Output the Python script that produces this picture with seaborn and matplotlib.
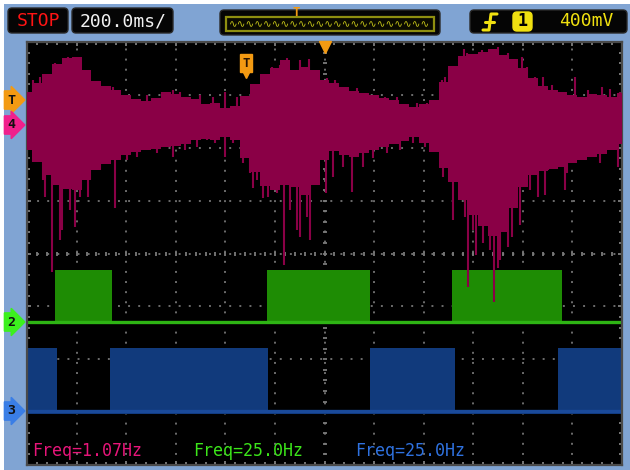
import numpy as np
import pandas as pd
import matplotlib
matplotlib.use("Agg")
import matplotlib.pyplot as plt
from matplotlib.patches import FancyBboxPatch, Rectangle
from matplotlib.lines import Line2D
from matplotlib.transforms import Affine2D
import seaborn as sns

# ---- time base and screen: 200 ms/div x 12 div, 8 vertical divisions ----
T_MIN, T_MAX = -1200, 1200
Y_MIN, Y_MAX = -4, 4

# ---- channel 4 (magenta): envelope sampled every 40 ms, in divisions ----
ch4_t = [-1200, -1160, -1120, -1080, -1040, -1000, -960, -920, -880, -840,
         -800, -760, -720, -680, -640, -600, -560, -520, -480, -440,
         -400, -360, -320, -280, -240, -200, -160, -120, -80, -40,
         0, 40, 80, 120, 160, 200, 240, 280, 320, 360,
         400, 440, 480, 520, 560, 600, 640, 680, 720, 760,
         800, 840, 880, 920, 960, 1000, 1040, 1080, 1120, 1160, 1200]
ch4_upper = [3.05, 3.22, 3.39, 3.58, 3.70, 3.72, 3.47, 3.26, 3.17, 3.09,
             3.00, 2.92, 2.88, 2.94, 3.05, 3.01, 2.96, 2.92, 2.83, 2.85,
             2.75, 2.79, 2.98, 3.20, 3.39, 3.51, 3.66, 3.47, 3.53, 3.47,
             3.28, 3.22, 3.15, 3.07, 3.03, 3.00, 2.94, 2.90, 2.83, 2.77,
             2.83, 2.90, 3.24, 3.54, 3.73, 3.77, 3.81, 3.87, 3.75, 3.68,
             3.51, 3.32, 3.17, 3.09, 3.05, 3.00, 2.96, 3.01, 3.00, 2.96, 3.03]
ch4_lower = [1.96, 1.73, 1.48, 1.29, 1.22, 1.20, 1.39, 1.58, 1.69, 1.77,
             1.86, 1.92, 1.96, 1.98, 2.01, 2.03, 2.07, 2.15, 2.16, 2.15,
             2.20, 2.15, 1.81, 1.54, 1.28, 1.20, 1.29, 1.26, 1.11, 1.29,
             1.77, 1.94, 1.86, 1.82, 1.90, 1.96, 2.01, 2.07, 2.13, 2.20,
             2.09, 1.92, 1.62, 1.35, 1.01, 0.73, 0.52, 0.33, 0.41, 0.86,
             1.26, 1.48, 1.56, 1.60, 1.64, 1.71, 1.77, 1.82, 1.88, 1.96, 2.07]
# glitches reaching below the envelope (time ms, lowest point div)
ch4_dip_t = [-1135, -1127, -1099, -1066, -1058, -1026, -1006, -986, -954, -946,
             -905, -877, -845, -796, -756, -675, -611, -562, -514, -474,
             -441, -401, -369, -329, -300, -288, -272, -248, -228, -192,
             -163, -139, -111, -99, -71, -58, -30, 6, 34, 75,
             111, 155, 196, 252, 304, 357, 405, 446, 478, 518,
             546, 567, 579, 599, 611, 639, 667, 683, 700, 708,
             740, 756, 788, 828, 861, 889, 901, 937, 970, 978,
             1018, 1058, 1111, 1151, 1183]
ch4_dip_v = [1.39, 1.07, -0.35, 0.26, 0.44, 0.82, 0.50, 1.07, 1.07, 1.39,
             1.58, 1.71, 0.86, 1.77, 1.82, 1.90, 1.82, 1.96, 2.01, 2.15,
             2.09, 1.82, 2.09, 1.71, 1.52, 1.24, 1.39, 1.05, 1.07, 1.14,
             -0.22, 0.82, 0.44, 0.31, 0.69, 0.26, 1.33, 1.14, 1.45, 1.64,
             1.16, 1.64, 1.81, 1.90, 1.96, 2.09, 2.01, 1.96, 1.45, 0.63,
             1.26, 0.69, -0.63, 0.44, -0.03, 0.20, 0.07, -0.92, -0.27, -0.12,
             0.12, 0.31, 0.54, 1.20, 1.07, 1.11, 1.58, 1.64, 1.20, 1.52,
             1.82, 1.90, 1.71, 1.96, 1.64]
# glitches reaching above the envelope (time ms, highest point div)
ch4_peak_t = [-1175, -1147, -1087, -1034, -998, -954, -905, -853, -796, -716,
              -611, -583, -502, -450, -401, -353, -288, -240, -212, -179,
              -151, -99, -62, -30, 10, 42, 91, 131, 196, 244,
              292, 373, 413, 437, 474, 486, 514, 563, 574, 635,
              679, 700, 740, 796, 816, 849, 881, 917, 1010, 1062,
              1119, 1151, 1191]
ch4_peak_v = [3.28, 3.34, 3.60, 3.72, 3.71, 3.47, 3.15, 3.15, 3.00, 3.00,
              3.09, 3.05, 3.00, 2.96, 3.05, 2.96, 3.19, 3.37, 3.53, 3.56,
              3.70, 3.66, 3.68, 3.47, 3.32, 3.28, 3.13, 3.13, 3.00, 2.96,
              2.96, 2.85, 2.85, 2.86, 3.28, 3.34, 3.53, 3.86, 3.79, 3.85,
              3.85, 3.90, 3.79, 3.71, 3.53, 3.34, 3.34, 3.19, 3.34, 3.09,
              3.15, 3.12, 3.05]
ch4_ref = 2.43

# ---- channel 2 (green) and channel 3 (blue): level changes ----
ch2_edges = [-1200, -1087, -857, -232, 183, 514, 958, 1200]
ch2_levels = [-1.29, -0.31, -1.29, -0.31, -1.29, -0.31, -1.29]
ch2_ref = -1.29
ch3_edges = [-1200, -1079, -865, -228, 183, 526, 941, 1200]
ch3_levels = [-1.79, -2.98, -1.79, -2.98, -1.79, -2.98, -1.79]
ch3_ref = -2.98

trig_time = -317

freq_labels = ["Freq=1.07Hz", "Freq=25.0Hz", "Freq=25.0Hz"]
status_text = "STOP"
timebase_text = "200.0ms/"
trig_source = "1"
trig_volts = "400mV"

PINK = "#8a0046"
GREEN = "#1e8c04"
GREEN_LINE = "#2eb414"
BLUE = "#113a7c"
BLUE_LINE = "#1a4a9a"
ORANGE = "#f39a12"
FRAME_BG = "#80a4d3"
MONO = "DejaVu Sans Mono"

sns.set_theme(style="dark", rc={"axes.facecolor": "black"})
plt.rcParams["font.family"] = [MONO, "DejaVu Sans"]

W, H = 630, 470
fig = plt.figure(figsize=(W / 100, H / 100), dpi=100, facecolor="white")
pix = Affine2D().scale(1, -1).translate(0, H)   # image pixels, y downward

fig.patches.append(Rectangle((4, 4), W - 4, H - 4, transform=pix,
                             facecolor=FRAME_BG, edgecolor="none", zorder=-5))


def panel(x0, y0, x1, y1, fc="#050505", ec="#2a2a2a", r=4, lw=1.0, z=1):
    fig.patches.append(FancyBboxPatch((x0, y0), x1 - x0, y1 - y0,
                                      boxstyle=f"round,pad=0,rounding_size={r}",
                                      transform=pix, facecolor=fc, edgecolor=ec,
                                      linewidth=lw, zorder=z))


def label(x, y, s, color, size=13, weight="normal", family=MONO, **kw):
    fig.text(x, y, s, transform=pix, color=color, fontsize=size,
             fontweight=weight, family=family, ha=kw.pop("ha", "center"),
             va=kw.pop("va", "center"), zorder=5, **kw)


# ---- status bar ----
panel(8, 8, 68, 33)
label(38, 21, status_text, "#ff1414")
panel(72, 8, 173, 33)
label(123, 21, timebase_text, "#f2f2f2")

panel(220, 10, 440, 35)
fig.patches.append(Rectangle((226, 17), 208, 14, transform=pix, facecolor="#0a0a00",
                             edgecolor="#8f8f10", linewidth=1.6, zorder=2))
label(330, 24, "\u223f" * 23, "#c9c81a", size=7.5, family="DejaVu Sans")
label(296, 13, "T", ORANGE, size=9, weight="bold")

panel(470, 10, 627, 33)
for xs, ys in (([483, 489, 491, 497], [30, 30, 14, 14]), ([485, 494], [22, 22])):
    fig.lines.append(Line2D(xs, ys, transform=pix, color="#f0e010", lw=2.2, zorder=5))
panel(513, 12, 532, 31, fc="#f0e010", ec="#f0e010", r=4, z=3)
label(522.5, 21.5, trig_source, "black", size=12, weight="bold")
label(586, 21, trig_volts, "#f0e010")

# ---- graticule ----
ax = fig.add_axes([27 / W, 1 - 465 / H, 595 / W, 423 / H])
ax.set_zorder(1)
ax.set_facecolor("black")
ax.set_xlim(T_MIN, T_MAX)
ax.set_ylim(Y_MIN, Y_MAX)
ax.set_xticks(np.arange(T_MIN, T_MAX + 1, 200))
ax.set_yticks(np.arange(Y_MIN, Y_MAX + 1, 1))
ax.set_xticks(np.arange(T_MIN, T_MAX + 1, 40), minor=True)
ax.set_yticks(np.arange(Y_MIN, Y_MAX + 0.01, 0.2), minor=True)
ax.set_xticklabels([])
ax.set_yticklabels([])
ax.tick_params(which="both", direction="in", top=True, right=True,
               bottom=True, left=True, color="#8a8a8a", width=1.2)
ax.tick_params(which="major", length=3)
ax.tick_params(which="minor", length=2)
ax.grid(True, which="major", color="#6c6c6c", linewidth=1.4, linestyle=(0, (1, 4.2)))
for sp in ax.spines.values():
    sp.set_color("#4a4a4a")
    sp.set_linewidth(1.6)

# centre axes with fine scale marks
ax.plot(np.arange(T_MIN, T_MAX + 1, 40), np.zeros(61), ls="none", marker="|",
        ms=3.5, mew=1.3, color="#7a7a7a", zorder=1)
ax.plot(np.zeros(41), np.arange(Y_MIN, Y_MAX + 0.01, 0.2), ls="none", marker="_",
        ms=3.5, mew=1.3, color="#7a7a7a", zorder=1)

# ---- channel 3 (blue) ----
ax.fill_between(ch3_edges, ch3_ref - 0.05, ch3_levels + ch3_levels[-1:],
                step="post", color=BLUE, lw=0, zorder=2)
sns.lineplot(x=[T_MIN, T_MAX], y=[ch3_ref, ch3_ref], color=BLUE_LINE,
             linewidth=2.4, ax=ax, zorder=2)

# ---- channel 2 (green) ----
ax.fill_between(ch2_edges, ch2_ref, ch2_levels + ch2_levels[-1:],
                step="post", color=GREEN, lw=0, zorder=2)
sns.lineplot(x=[T_MIN, T_MAX], y=[ch2_ref, ch2_ref], color=GREEN_LINE,
             linewidth=2.4, ax=ax, zorder=2)

# ---- channel 4 (magenta) ----
ch4 = pd.DataFrame({"t": ch4_t, "upper": ch4_upper, "lower": ch4_lower})
ax.fill_between(ch4["t"], ch4["lower"], ch4["upper"], step="mid",
                color=PINK, lw=0, zorder=3)
ax.vlines(ch4_dip_t, ch4_dip_v, ch4_ref, color=PINK, lw=1.5, zorder=3)
ax.vlines(ch4_peak_t, ch4_ref, ch4_peak_v, color=PINK, lw=1.5, zorder=3)
ax.set_xlabel("")
ax.set_ylabel("")

# ---- trigger markers ----
ax.plot([0], [3.90], marker="v", ms=8, color=ORANGE, ls="none",
        clip_on=False, zorder=6)
ax.text(trig_time, 3.60, "T", color="#2a1400", fontsize=9, fontweight="bold",
        ha="center", va="center", zorder=6,
        bbox=dict(boxstyle="square,pad=0.18", fc=ORANGE, ec=ORANGE))
ax.plot([trig_time], [3.40], marker="v", ms=6, color=ORANGE, ls="none", zorder=6)

# ---- measurement readouts ----
for xf, s, c in zip([0.0084, 0.279, 0.551], freq_labels,
                    ["#e8157a", "#3ce61a", "#2f72e0"]):
    ax.text(xf, 0.033, s, transform=ax.transAxes, color=c, fontsize=12,
            family=MONO, ha="left", va="center", zorder=6)

# ---- channel reference tabs on the left edge ----
for py, s, fc in [(100, "T", ORANGE), (125, "4", "#f0208c"),
                  (322, "2", "#3cf01e"), (411, "3", "#3a7ee6")]:
    fig.text(11, py, s, transform=pix, color="#101010", fontsize=9.5,
             fontweight="bold", ha="center", va="center", zorder=6,
             bbox=dict(boxstyle="rarrow,pad=0.2", fc=fc, ec=fc))

fig.savefig("out.png", dpi=100, facecolor=fig.get_facecolor())
